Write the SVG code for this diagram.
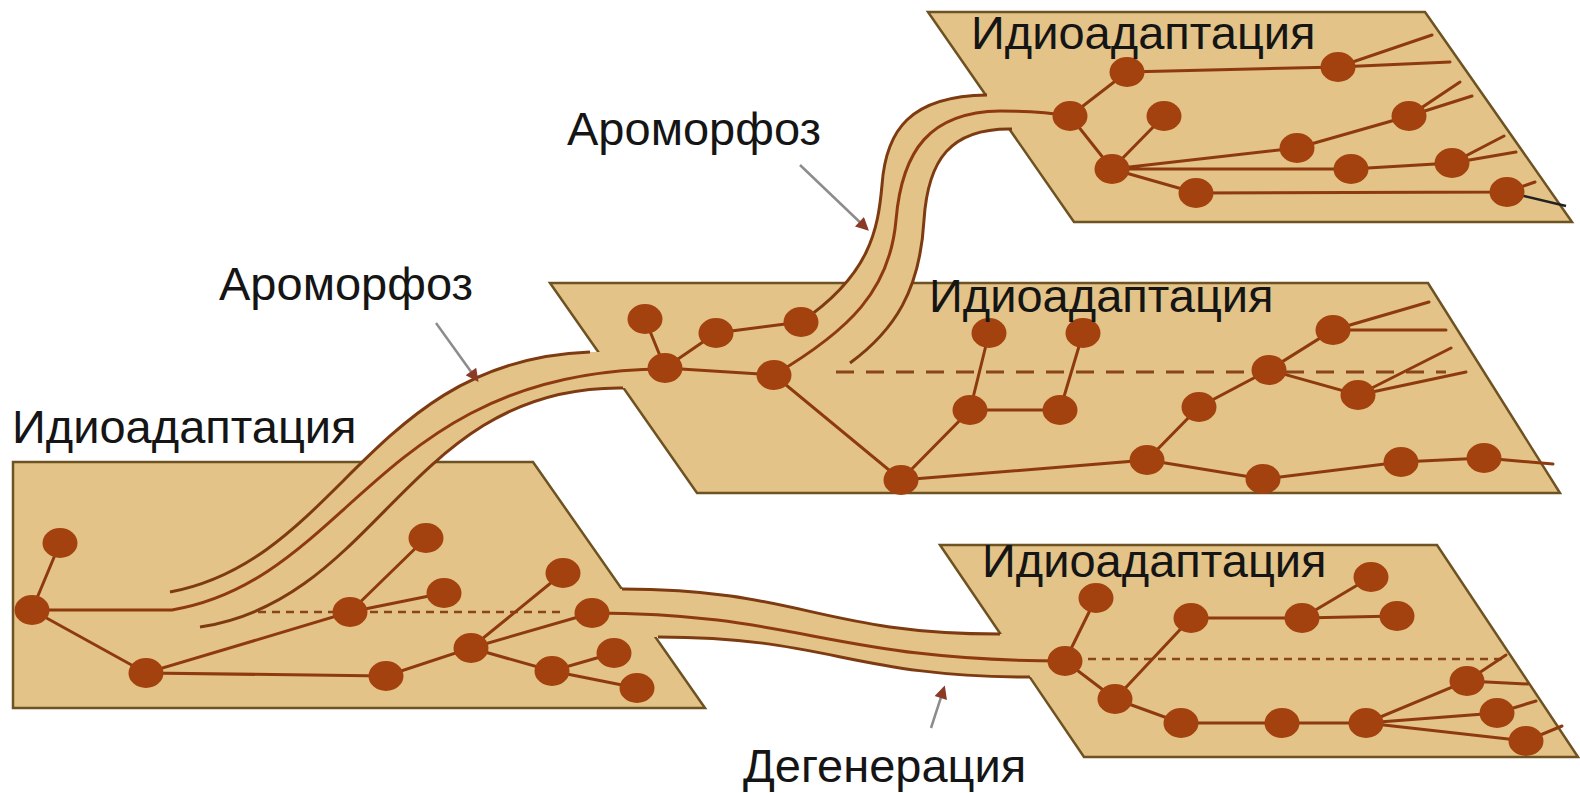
<svg xmlns="http://www.w3.org/2000/svg" width="1580" height="793" viewBox="0 0 1580 793">
<defs>
<style>
.panel{fill:#E3C387;stroke:#6E5222;stroke-width:2.5;stroke-linejoin:miter}
.tube{fill:#E3C387;stroke:none}
.edge{fill:none;stroke:#7E3A10;stroke-width:3}
.br{fill:none;stroke:#8E3A0E;stroke-width:3;stroke-linecap:round}
.blk{fill:none;stroke:#222;stroke-width:2.5}
.node{fill:#A3420E}
.dsh{fill:none;stroke:#8A461A;stroke-width:2.5;stroke-dasharray:8 6}
.dshb{fill:none;stroke:#8A461A;stroke-width:3;stroke-dasharray:18 12}
.lbl{font-family:"Liberation Sans",Arial,sans-serif;font-size:47px;fill:#151515}
.arr{fill:none;stroke:#8C8C8C;stroke-width:2.5;marker-end:url(#ah)}
</style>
<marker id="ah" viewBox="0 0 10 10" refX="8" refY="5" markerUnits="userSpaceOnUse" markerWidth="16" markerHeight="13" orient="auto">
<path d="M0,0 L10,5 L0,10 z" fill="#8B3A26"/>
</marker>
</defs>
<rect width="1580" height="793" fill="#fff"/>

<g id="panels">
<polygon id="panel-a" class="panel" points="13,462 533,462 705,708 13,708"/>
<polygon id="panel-b" class="panel" points="550,283 1428,283 1560,493 697,493"/>
<polygon id="panel-c" class="panel" points="928,12 1425,12 1572,222 1074,222"/>
<polygon id="panel-d" class="panel" points="940,545 1437,545 1578,757 1084,757"/>
</g>

<g id="connectors">
<path class="tube" d="M170,592 C340,560 370,360 590,352 L640,352 L640,388 L623,388 C410,385 380,600 200,627 Z"/>
<path class="tube" d="M622,589 C800,589 820,634 1000,634 L1040,634 L1040,677 L1030,677 C850,677 830,637 658,637 L600,637 L600,589 Z"/>
<path class="tube" d="M801,322 C870,275 878,230 882,185 C886,130 910,96 987,95 L1030,95 L1030,129 L1012,129 C950,128 928,160 924,220 C920,290 895,330 850,363 Z"/>
<path class="edge" d="M170,592 C340,560 370,360 590,352"/>
<path class="edge" d="M200,627 C380,600 410,385 623,388"/>
<path class="edge" d="M622,589 C800,589 820,634 1000,634"/>
<path class="edge" d="M658,637 C830,637 850,677 1030,677"/>
<path class="edge" d="M801,322 C870,275 878,230 882,185 C886,130 910,96 987,95"/>
<path class="edge" d="M850,363 C895,330 920,290 924,220 C928,160 950,128 1012,129"/>
<path class="br" d="M32,610 L172,610 C350,580 380,370 664,369"/>
<path class="br" d="M592,613 C800,613 830,661 1065,661"/>
<path class="br" d="M774,375 C850,330 890,290 896,220 C902,150 930,112 1000,111 Q1040,111 1070,116"/>
<line class="arr" x1="436" y1="323" x2="477" y2="380"/>
<line class="arr" x1="800" y1="165" x2="867" y2="229"/>
<line class="arr" x1="931" y1="728" x2="944" y2="688"/>
</g>

<g id="tree-a">
<path class="dsh" d="M258,612 H565"/>
<path class="br" d="M32,610 L60,543 M32,610 L146,673 L350,612 L426,538 M350,612 L444,593 M146,673 L386,676 L471,648 L563,573 M471,648 L592,613 M471,648 L552,671 L614,653 M552,671 L637,688"/>
<ellipse id="a1" class="node" cx="60" cy="543" rx="17.5" ry="15"/>
<ellipse id="a2" class="node" cx="32" cy="610" rx="17.5" ry="15"/>
<ellipse id="a3" class="node" cx="146" cy="673" rx="17.5" ry="15"/>
<ellipse id="a4" class="node" cx="350" cy="612" rx="17.5" ry="15"/>
<ellipse id="a5" class="node" cx="426" cy="538" rx="17.5" ry="15"/>
<ellipse id="a6" class="node" cx="444" cy="593" rx="17.5" ry="15"/>
<ellipse id="a7" class="node" cx="386" cy="676" rx="17.5" ry="15"/>
<ellipse id="a8" class="node" cx="471" cy="648" rx="17.5" ry="15"/>
<ellipse id="a9" class="node" cx="563" cy="573" rx="17.5" ry="15"/>
<ellipse id="a10" class="node" cx="592" cy="613" rx="17.5" ry="15"/>
<ellipse id="a11" class="node" cx="614" cy="653" rx="17.5" ry="15"/>
<ellipse id="a12" class="node" cx="552" cy="671" rx="17.5" ry="15"/>
<ellipse id="a13" class="node" cx="637" cy="688" rx="17.5" ry="15"/>
</g>

<g id="tree-b">
<path class="dshb" d="M836,372 H1446"/>
<path class="br" d="M645,319 L665,368 L716,333 L801,322 M665,368 L774,375 L901,480 L970,410 L989,333 M970,410 L1060,410 L1083,333 M901,480 L1147,460 L1199,407 L1269,370 L1333,330 L1429,302 M1333,330 L1446,330 M1269,370 L1358,395 L1451,348 M1358,395 L1466,372 M1147,460 L1263,479 L1401,462 L1484,458 L1553,464"/>
<ellipse id="b1" class="node" cx="645" cy="319" rx="17.5" ry="15"/>
<ellipse id="b2" class="node" cx="716" cy="333" rx="17.5" ry="15"/>
<ellipse id="b3" class="node" cx="801" cy="322" rx="17.5" ry="15"/>
<ellipse id="b4" class="node" cx="665" cy="368" rx="17.5" ry="15"/>
<ellipse id="b5" class="node" cx="774" cy="375" rx="17.5" ry="15"/>
<ellipse id="b6" class="node" cx="989" cy="333" rx="17.5" ry="15"/>
<ellipse id="b7" class="node" cx="1083" cy="333" rx="17.5" ry="15"/>
<ellipse id="b8" class="node" cx="970" cy="410" rx="17.5" ry="15"/>
<ellipse id="b9" class="node" cx="1060" cy="410" rx="17.5" ry="15"/>
<ellipse id="b10" class="node" cx="901" cy="480" rx="17.5" ry="15"/>
<ellipse id="b11" class="node" cx="1147" cy="460" rx="17.5" ry="15"/>
<ellipse id="b12" class="node" cx="1199" cy="407" rx="17.5" ry="15"/>
<ellipse id="b13" class="node" cx="1269" cy="370" rx="17.5" ry="15"/>
<ellipse id="b14" class="node" cx="1333" cy="330" rx="17.5" ry="15"/>
<ellipse id="b15" class="node" cx="1358" cy="395" rx="17.5" ry="15"/>
<ellipse id="b16" class="node" cx="1263" cy="479" rx="17.5" ry="15"/>
<ellipse id="b17" class="node" cx="1401" cy="462" rx="17.5" ry="15"/>
<ellipse id="b18" class="node" cx="1484" cy="458" rx="17.5" ry="15"/>
</g>

<g id="tree-c">
<path class="br" d="M1070,116 L1127,72 L1338,67 L1432,35 M1338,67 L1450,62 M1070,116 L1112,169 L1164,116 M1112,169 L1297,148 L1409,116 L1460,82 M1409,116 L1472,96 M1112,169 L1351,169 L1452,163 L1504,136 M1452,163 L1516,152 M1112,169 L1196,193 L1507,192 L1535,182"/>
<path class="blk" d="M1507,192 L1566,206"/>
<ellipse id="c1" class="node" cx="1127" cy="72" rx="17.5" ry="15"/>
<ellipse id="c2" class="node" cx="1338" cy="67" rx="17.5" ry="15"/>
<ellipse id="c3" class="node" cx="1070" cy="116" rx="17.5" ry="15"/>
<ellipse id="c4" class="node" cx="1164" cy="116" rx="17.5" ry="15"/>
<ellipse id="c5" class="node" cx="1409" cy="116" rx="17.5" ry="15"/>
<ellipse id="c6" class="node" cx="1112" cy="169" rx="17.5" ry="15"/>
<ellipse id="c7" class="node" cx="1297" cy="148" rx="17.5" ry="15"/>
<ellipse id="c8" class="node" cx="1351" cy="169" rx="17.5" ry="15"/>
<ellipse id="c9" class="node" cx="1452" cy="163" rx="17.5" ry="15"/>
<ellipse id="c10" class="node" cx="1196" cy="193" rx="17.5" ry="15"/>
<ellipse id="c11" class="node" cx="1507" cy="192" rx="17.5" ry="15"/>
</g>

<g id="tree-d">
<path class="dsh" d="M1074,659 H1506"/>
<path class="br" d="M1065,661 L1096,598 M1065,661 L1115,699 L1191,618 L1302,618 L1371,577 M1302,618 L1397,616 M1115,699 L1181,723 L1282,723 L1366,723 L1467,681 L1506,655 M1467,681 L1528,684 M1366,723 L1497,713 L1536,701 M1366,723 L1526,741 L1562,726"/>
<ellipse id="d1" class="node" cx="1096" cy="598" rx="17.5" ry="15"/>
<ellipse id="d2" class="node" cx="1371" cy="577" rx="17.5" ry="15"/>
<ellipse id="d3" class="node" cx="1191" cy="618" rx="17.5" ry="15"/>
<ellipse id="d4" class="node" cx="1302" cy="618" rx="17.5" ry="15"/>
<ellipse id="d5" class="node" cx="1397" cy="616" rx="17.5" ry="15"/>
<ellipse id="d6" class="node" cx="1065" cy="661" rx="17.5" ry="15"/>
<ellipse id="d7" class="node" cx="1115" cy="699" rx="17.5" ry="15"/>
<ellipse id="d8" class="node" cx="1181" cy="723" rx="17.5" ry="15"/>
<ellipse id="d9" class="node" cx="1282" cy="723" rx="17.5" ry="15"/>
<ellipse id="d10" class="node" cx="1366" cy="723" rx="17.5" ry="15"/>
<ellipse id="d11" class="node" cx="1467" cy="681" rx="17.5" ry="15"/>
<ellipse id="d12" class="node" cx="1497" cy="713" rx="17.5" ry="15"/>
<ellipse id="d13" class="node" cx="1526" cy="741" rx="17.5" ry="15"/>
</g>

<g id="labels">
<text class="lbl" x="12" y="443">Идиоадаптация</text>
<text class="lbl" x="219" y="300">Ароморфоз</text>
<text class="lbl" x="567" y="145">Ароморфоз</text>
<text class="lbl" x="929" y="312">Идиоадаптация</text>
<text class="lbl" x="971" y="49">Идиоадаптация</text>
<text class="lbl" x="982" y="577">Идиоадаптация</text>
<text class="lbl" x="743" y="782">Дегенерация</text>
</g>
</svg>
